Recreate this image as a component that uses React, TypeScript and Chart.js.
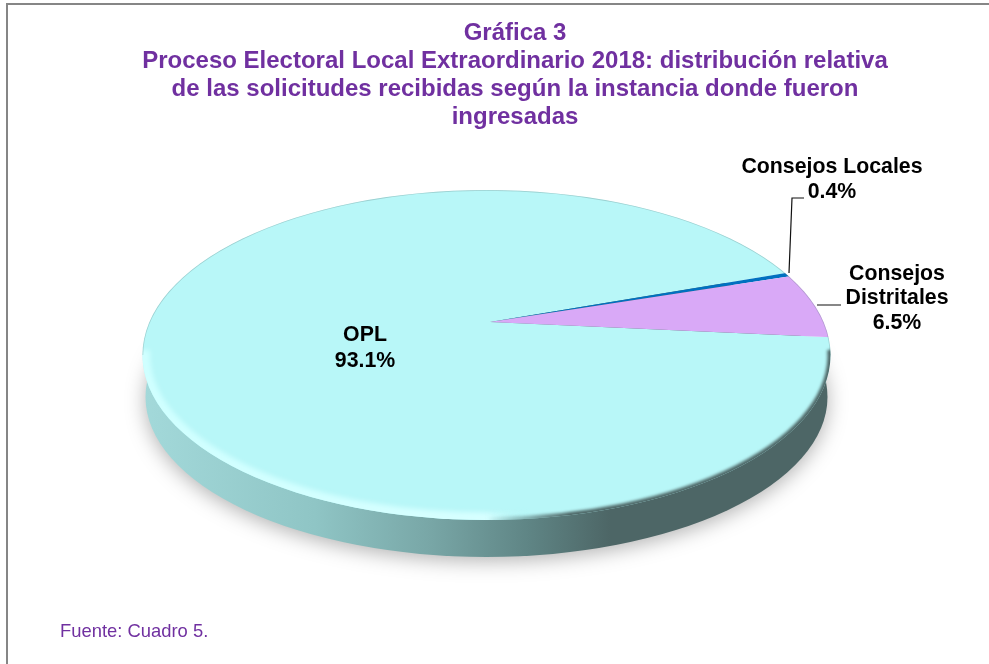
import React, { useEffect, useRef } from "react";
import { Chart, registerables } from "chart.js";

Chart.register(...registerables);

const categories = ["OPL", "Consejos Locales", "Consejos Distritales"];
const shares = [93.1, 0.4, 6.5];
const sliceColors = ["#B8F7F8", "#0070C0", "#D9A9F7"];
const titleLines = [
  "Gráfica 3",
  "Proceso Electoral Local Extraordinario 2018: distribución relativa",
  "de las solicitudes recibidas según la instancia donde fueron",
  "ingresadas",
];
const sourceNote = "Fuente: Cuadro 5.";

const FONT = '"Liberation Sans", Arial, sans-serif';
const PURPLE = "#7030A0";
const E = { x: 486.5, y: 355, rx: 344, ry: 165 };
const APEX = { x: 490, y: 322 };
const SQUASH = 0.47;

const piePlugin = {
  id: "tiltedPie",
  beforeDraw(chart: any) {
    const c = chart.ctx;
    c.save();
    c.fillStyle = "#ffffff";
    c.fillRect(0, 0, 989, 664);
    c.fillStyle = "#868686";
    c.fillRect(6, 3, 983, 2);
    c.fillRect(6, 3, 2, 661);
    c.restore();
  },
  beforeDatasetsDraw(chart: any) {
    const c = chart.ctx;
    const arc = chart.getDatasetMeta(0).data[0];
    // side wall
    const g = c.createLinearGradient(143, 0, 830, 0);
    g.addColorStop(0, "#A3D9DA");
    g.addColorStop(0.25, "#8FC5C5");
    g.addColorStop(0.42, "#78A6A6");
    g.addColorStop(0.56, "#5F8585");
    g.addColorStop(0.68, "#4D6666");
    g.addColorStop(1, "#4D6666");
    c.save();
    c.shadowColor = "rgba(0,0,0,0.3)";
    c.shadowBlur = 20;
    c.shadowOffsetY = 4;
    c.fillStyle = g;
    c.beginPath();
    c.ellipse(E.x, 397, 341, 160, 0, 0, Math.PI * 2);
    c.fill();
    c.restore();
    // top face
    c.save();
    c.beginPath();
    c.ellipse(E.x, E.y, E.rx, E.ry, 0, 0, Math.PI * 2);
    c.clip();
    const sx = 520 / arc.outerRadius;
    c.translate(APEX.x, APEX.y);
    c.scale(sx, sx * SQUASH);
    c.translate(-arc.x, -arc.y);
  },
  afterDatasetsDraw(chart: any) {
    const c = chart.ctx;
    c.restore();
    // bevel on the rim: light towards the left, dark towards the right
    const light = c.createLinearGradient(143, 0, 830, 0);
    light.addColorStop(0, "#CFFFFF");
    light.addColorStop(0.5, "#D6FFFF");
    light.addColorStop(0.56, "rgba(184,247,248,0)");
    light.addColorStop(1, "rgba(184,247,248,0)");
    const dark = c.createLinearGradient(143, 0, 830, 0);
    dark.addColorStop(0, "rgba(77,102,102,0)");
    dark.addColorStop(0.5, "rgba(77,102,102,0)");
    dark.addColorStop(0.62, "#4D6666");
    dark.addColorStop(1, "#4D6666");
    c.save();
    c.beginPath();
    c.ellipse(E.x, E.y, E.rx, E.ry, 0, 0, Math.PI * 2);
    c.clip();
    const rim = () => {
      c.beginPath();
      c.ellipse(E.x, E.y, E.rx, E.ry, 0, -0.01 * Math.PI, 1.01 * Math.PI);
      c.stroke();
    };
    c.filter = "blur(2.5px)";
    c.strokeStyle = light;
    c.lineWidth = 15;
    rim();
    c.filter = "blur(1.5px)";
    c.strokeStyle = dark;
    c.lineWidth = 6;
    rim();
    c.filter = "none";
    c.strokeStyle = "rgba(90,120,120,0.3)";
    c.lineWidth = 1.5;
    c.beginPath();
    c.ellipse(E.x, E.y, E.rx, E.ry, 0, Math.PI, 2 * Math.PI);
    c.stroke();
    c.restore();
  },
  afterDraw(chart: any) {
    const c = chart.ctx;
    const pct = (i: number) => shares[i].toFixed(1) + "%";
    c.save();
    c.strokeStyle = "#111111";
    c.lineWidth = 1.2;
    c.beginPath();
    c.moveTo(789, 273);
    c.lineTo(792, 198);
    c.lineTo(804, 198);
    c.moveTo(817, 305);
    c.lineTo(841, 305);
    c.stroke();
    c.fillStyle = "#000000";
    c.font = `bold 21.3px ${FONT}`;
    c.textAlign = "center";
    c.textBaseline = "middle";
    c.fillText(categories[0], 365, 335);
    c.fillText(pct(0), 365, 361);
    c.fillText(categories[1], 832, 167);
    c.fillText(pct(1), 832, 192);
    const [w1, w2] = categories[2].split(" ");
    c.fillText(w1, 897, 274);
    c.fillText(w2, 897, 298);
    c.fillText(pct(2), 897, 323);
    c.fillStyle = PURPLE;
    c.font = `18.4px ${FONT}`;
    c.textAlign = "left";
    c.fillText(sourceNote, 60, 632);
    c.restore();
  },
};

export default function App() {
  const ref = useRef<HTMLCanvasElement>(null);
  useEffect(() => {
    document.body.style.margin = "0";
    const chart = new Chart(ref.current!, {
      type: "pie",
      data: {
        labels: categories,
        datasets: [{ data: shares, backgroundColor: sliceColors, borderWidth: 0 }],
      },
      options: {
        responsive: false,
        animation: false,
        rotation: 95.4,
        layout: { padding: { left: 41 } },
        plugins: {
          legend: { display: false },
          tooltip: { enabled: false },
          title: {
            display: true,
            text: titleLines,
            color: PURPLE,
            font: { family: FONT, size: 24, weight: "bold", lineHeight: 1.17 },
            padding: { top: 19, bottom: 10 },
          },
        },
      },
      plugins: [piePlugin],
    } as any);
    return () => chart.destroy();
  }, []);
  return <canvas ref={ref} width={989} height={664} style={{ display: "block" }} />;
}
